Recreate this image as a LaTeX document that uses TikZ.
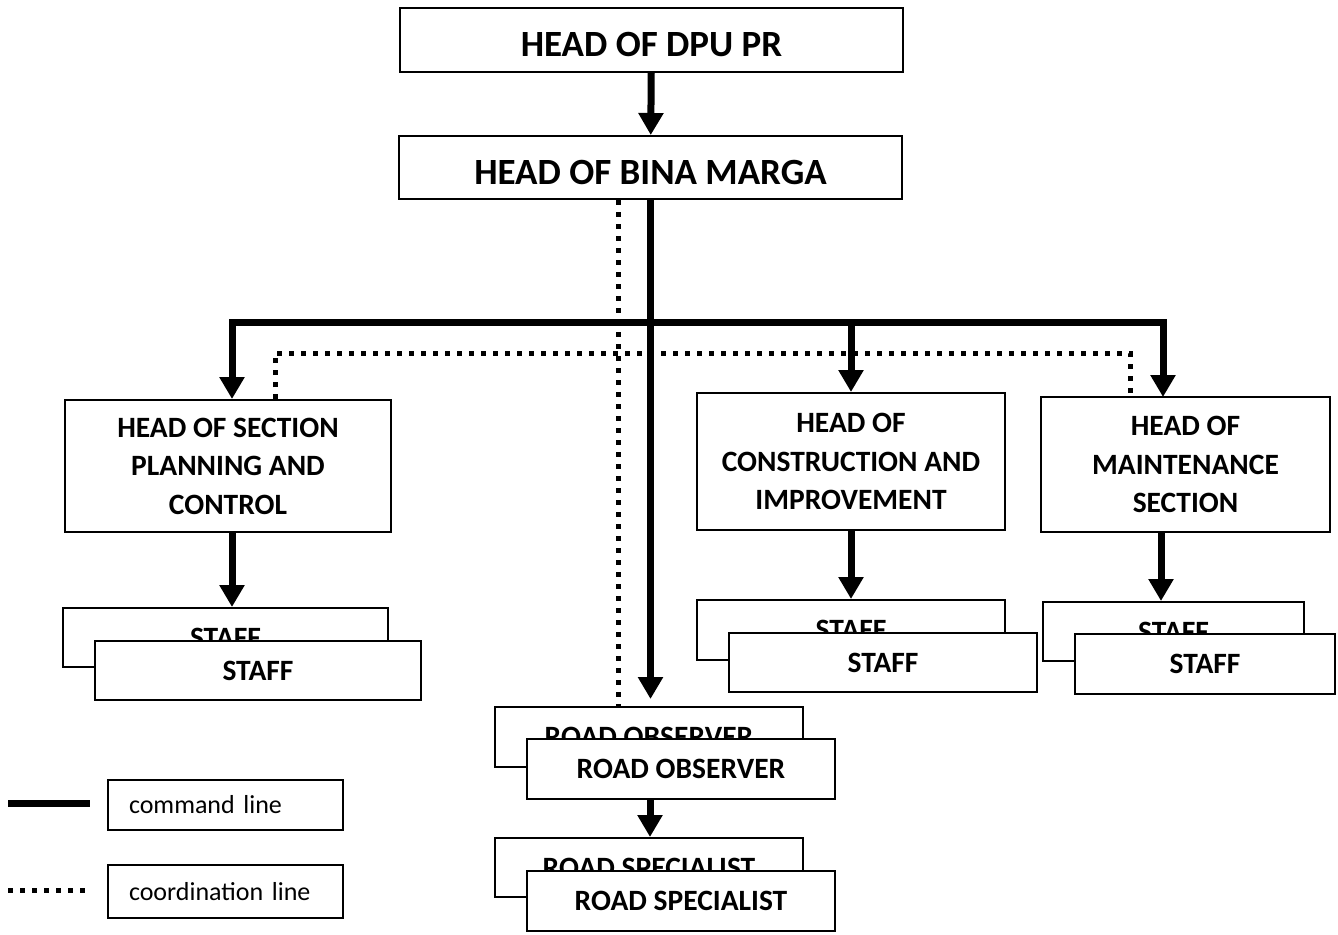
\documentclass[tikz,border=0pt]{standalone}
\usepackage{fontspec}
\setmainfont{Carlito}
\usetikzlibrary{arrows.meta,positioning,calc}
\tikzstyle{bS}=[rectangle,draw,line width=2pt,fill=white,inner sep=0pt,align=center,font=\bfseries\fontsize{29.5}{38.5}\selectfont]
\tikzstyle{bigS}=[bS,minimum width=503pt,minimum height=63pt,text height=33pt,text depth=0pt,font=\bfseries\fontsize{37}{40}\selectfont]
\tikzstyle{lS}=[rectangle,draw,line width=1.5pt,inner xsep=21pt,inner ysep=0pt,text width=193pt,align=left,font=\fontsize{26}{28}\selectfont]
\tikzstyle{cmdLine}=[line width=7pt,-{Triangle[width=24pt,length=22pt]}]
\tikzstyle{crdLine}=[line width=5pt,dash pattern=on 5pt off 7pt]
\begin{document}
\begin{tikzpicture}[x=1pt,y=-1pt]
    \useasboundingbox (0,0) rectangle (1338,934);
    % top of the chart
    \draw (651.5,40) node[bigS,minimum height=64pt] (dpu) {HEAD OF DPU PR};
    \draw (650.5,167.5) node[bigS] (bina) {HEAD OF BINA MARGA};
    % sections
    \draw (228,466) node[bS,minimum width=326pt,minimum height=132pt] (plan) {HEAD OF SECTION\\PLANNING AND\\CONTROL};
    \draw (851,461.5) node[bS,minimum width=308pt,minimum height=137pt] (cons) {HEAD OF\\CONSTRUCTION AND\\IMPROVEMENT};
    \draw (1185.5,464.5) node[bS,minimum width=289pt,minimum height=135pt] (maint) {HEAD OF\\MAINTENANCE\\SECTION};
    % staff (two boxes each)
    \draw (225.5,637.5) node[bS,minimum width=325pt,minimum height=59pt] (planSB) {STAFF};
    \draw (258,670.5) node[bS,minimum width=326pt,minimum height=59pt] (planSF) {STAFF};
    \draw (851,630) node[bS,minimum width=308pt,minimum height=60pt] (consSB) {STAFF};
    \draw (883,662.5) node[bS,minimum width=308pt,minimum height=59pt] (consSF) {STAFF};
    \draw (1173.5,631.5) node[bS,minimum width=261pt,minimum height=59pt] (maintSB) {STAFF};
    \draw (1205,664) node[bS,minimum width=260pt,minimum height=60pt] (maintSF) {STAFF};
    % road observer and road specialist
    \draw (649,737) node[bS,minimum width=308pt,minimum height=60pt] (obsB) {ROAD OBSERVER};
    \draw (681,769) node[bS,minimum width=308pt,minimum height=60pt] (obsF) {ROAD OBSERVER};
    \draw (649,867.5) node[bS,minimum width=308pt,minimum height=59pt] (specB) {ROAD SPECIALIST};
    \draw (681,901) node[bS,minimum width=308pt,minimum height=60pt] (specF) {ROAD SPECIALIST};
    % legend
    \draw (225.5,805) node[lS,minimum height=50pt] (lgCmd) {command line};
    \draw (225.5,891.5) node[lS,minimum height=53pt] (lgCrd) {coordination line};
    \coordinate (cmdA) at (8,803);
    \coordinate (crdA) at (8,890);
    % junctions
    \coordinate (bus) at (1163,322);
    \coordinate (crdBus) at (1130,353);
    \coordinate (mTop) at (1163,397);
    \path
        (dpu) edge[cmdLine] (bina)
        (bina.south) edge[cmdLine,shorten >=7pt] (bina.south |- obsB.north)
        (plan.south -| 232,0) edge[cmdLine] (planSB.north -| 232,0)
        (cons.south) edge[cmdLine] (consSB.north -| cons.south)
        (maint.south -| 1161,0) edge[cmdLine] (maintSB.north -| 1161,0)
        (obsF.south -| 650,0) edge[cmdLine] (specB.north -| 650,0)
        (cons.north |- bus) edge[cmdLine] (cons.north)
    ;
    \draw[cmdLine,{Triangle[width=24pt,length=22pt]}-{Triangle[width=24pt,length=22pt]}] (plan.north -| 232,0) |- (bus) -- (mTop);
    \draw[crdLine] (plan.north -| 275,0) |- (crdBus) -- (maint.north -| crdBus);
    \draw[crdLine] (bina.south -| 618,0) -- (obsB.north -| 618,0);
    \draw[line width=7pt] (cmdA) -- (cmdA -| 90,0);
    \draw[crdLine] (crdA) -- (crdA -| 90,0);
\end{tikzpicture}
\end{document}
